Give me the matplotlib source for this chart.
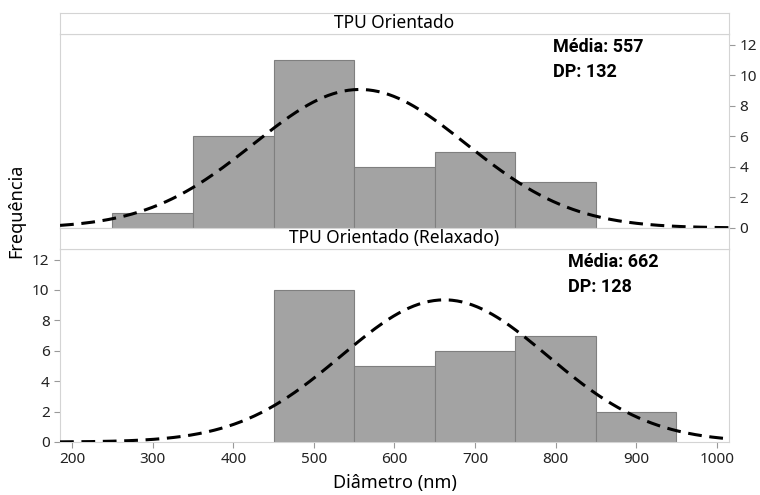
import numpy as np
import matplotlib
matplotlib.use('Agg')
import matplotlib.pyplot as plt

plt.rcParams['font.family'] = ['Noto Sans', 'DejaVu Sans']

# histogram data (bin left edges, counts), bin width 100 nm
edges_top = [250, 350, 450, 550, 650, 750]
counts_top = [1, 6, 11, 4, 5, 3]
edges_bot = [450, 550, 650, 750, 850]
counts_bot = [10, 5, 6, 7, 2]
width = 100
titles = ['TPU Orientado', 'TPU Orientado (Relaxado)']
means = [557, 662]
sds = [132, 128]
xticks = [200, 300, 400, 500, 600, 700, 800, 900, 1000]
yticks = [0, 2, 4, 6, 8, 10, 12]

bar_col = '#a3a3a3'
edge_col = '#7f7f7f'
frame_col = '#d4d4d4'

fig = plt.figure(figsize=(7.6, 4.95), dpi=100)
L, W = 0.079, 0.880
strip_h = 0.0424
layout = [(0.5394, 0.392), (0.1071, 0.390)]

def normal_curve(x, m, s, n):
    return n*width*np.exp(-0.5*((x-m)/s)**2)/(s*np.sqrt(2*np.pi))

xs = np.linspace(185, 1015, 400)
data = [(edges_top, counts_top), (edges_bot, counts_bot)]
for i, (b, h) in enumerate(layout):
    ax = fig.add_axes([L, b, W, h])
    strip = fig.add_axes([L, b+h, W, strip_h])
    strip.set_xticks([]); strip.set_yticks([])
    for sp in strip.spines.values():
        sp.set_color(frame_col)
    strip.text(0.5, 0.5, titles[i], ha='center', va='center', fontsize=12.5,
               transform=strip.transAxes)
    edges, counts = data[i]
    ax.bar(edges, counts, width=width, align='edge', color=bar_col,
           edgecolor=edge_col, linewidth=0.8, zorder=2)
    ax.plot(xs, normal_curve(xs, means[i], sds[i], sum(counts)), color='black',
            lw=2.2, linestyle=(0, (4.5, 2.5)), zorder=3)
    ax.set_xlim(185, 1015)
    ax.set_ylim(0, 12.7)
    for sp in ax.spines.values():
        sp.set_color(frame_col)
    ax.tick_params(colors='#999999', labelcolor='#222222', labelsize=11, length=4)
    ax.set_yticks(yticks)
    tx = 0.737 if i == 0 else 0.759
    ax.text(tx, 0.98, 'Média: %d\nDP: %d' % (means[i], sds[i]), transform=ax.transAxes,
            ha='left', va='top', fontsize=13, fontweight='bold', linespacing=1.5,
            family=['Roboto', 'DejaVu Sans'])
    if i == 0:
        ax.yaxis.tick_right()
        ax.set_xticks([])
    else:
        ax.set_xticks(xticks)
        ax.set_xlabel('Diâmetro (nm)', fontsize=13, labelpad=5)

fig.text(0.021, 0.574, 'Frequência', rotation=90, ha='center', va='center', fontsize=13)

fig.savefig('out.png', dpi=100)
